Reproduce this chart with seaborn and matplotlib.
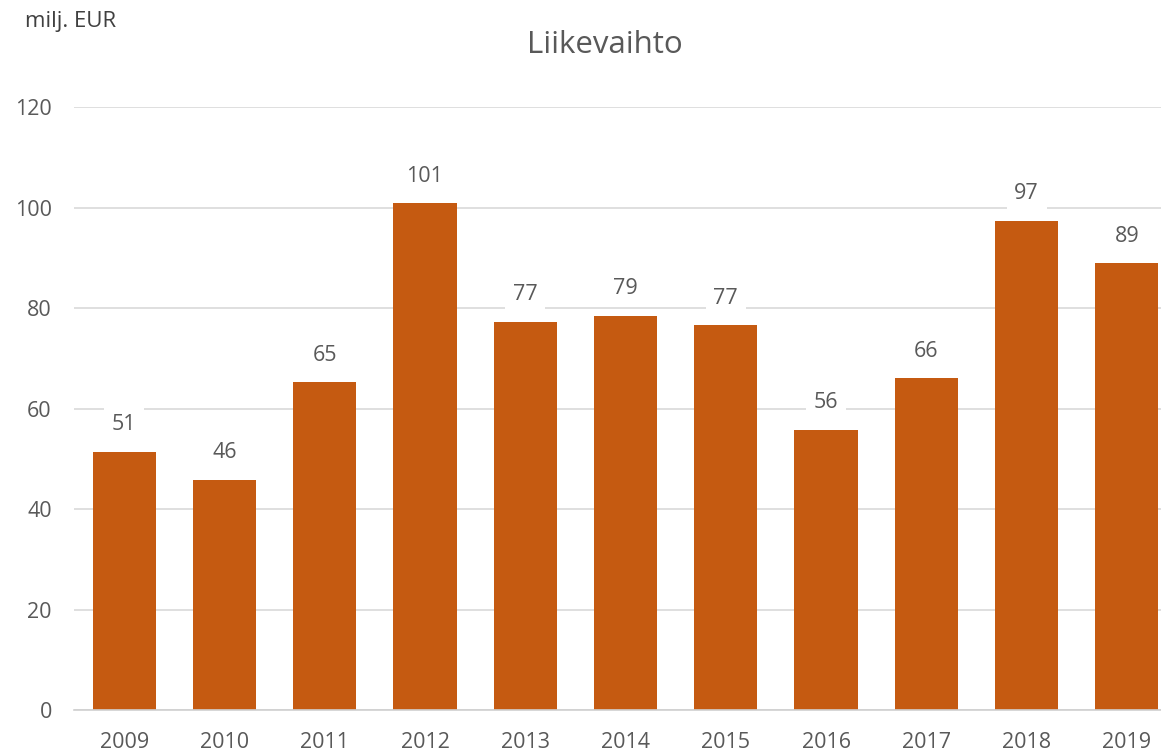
import matplotlib
matplotlib.use("Agg")
import matplotlib.pyplot as plt
import seaborn as sns
import pandas as pd

# Data
years = ["2009", "2010", "2011", "2012", "2013", "2014", "2015", "2016", "2017", "2018", "2019"]
revenue = [51.4, 45.8, 65.2, 100.8, 77.3, 78.5, 76.6, 55.8, 66.0, 97.4, 88.9]
labels = ["51", "46", "65", "101", "77", "79", "77", "56", "66", "97", "89"]

df = pd.DataFrame({"year": years, "revenue": revenue})

sns.set_style("white")
plt.rcParams["font.family"] = ["Open Sans", "DejaVu Sans"]
text_col = "#595959"

fig = plt.figure(figsize=(11.61, 7.53), dpi=100)
ax = fig.add_axes([74 / 1161, 1 - 710 / 753, 1 - 74 / 1161, (710 - 107) / 753])

sns.barplot(data=df, x="year", y="revenue", color="#C55A11", saturation=1,
            width=0.63, linewidth=0, ax=ax, zorder=2)

ax.set_ylim(0, 120)
ax.set_xlim(-0.5, 10.34)
ax.set_yticks(range(0, 121, 20))
ax.yaxis.grid(True, color="#D9D9D9", linewidth=1.2, zorder=0)
ax.set_axisbelow(True)
for s in ["top", "right", "left"]:
    ax.spines[s].set_visible(False)
ax.spines["bottom"].set_color("#D0D0D0")
ax.spines["bottom"].set_linewidth(1.2)
ax.tick_params(axis="both", length=0, labelsize=15.5, labelcolor=text_col)
ax.tick_params(axis="x", pad=16)
ax.tick_params(axis="y", pad=16)
ax.set_xlabel("")
ax.set_ylabel("")

for i, (v, lab) in enumerate(zip(revenue, labels)):
    ax.annotate(lab, (i, v), xytext=(0, 27), textcoords="offset pixels",
                ha="center", va="center", fontsize=15.5, color=text_col, zorder=3,
                bbox=dict(boxstyle="square,pad=0.35", facecolor="white", edgecolor="none"))

fig.text(605 / 1161, 1 - 45 / 753, "Liikevaihto", ha="center", va="center",
         fontsize=22.5, color=text_col)
fig.text(25 / 1161, 1 - 22 / 753, "milj. EUR", ha="left", va="center",
         fontsize=16, color="#404040")

fig.savefig("out.png", dpi=100)
